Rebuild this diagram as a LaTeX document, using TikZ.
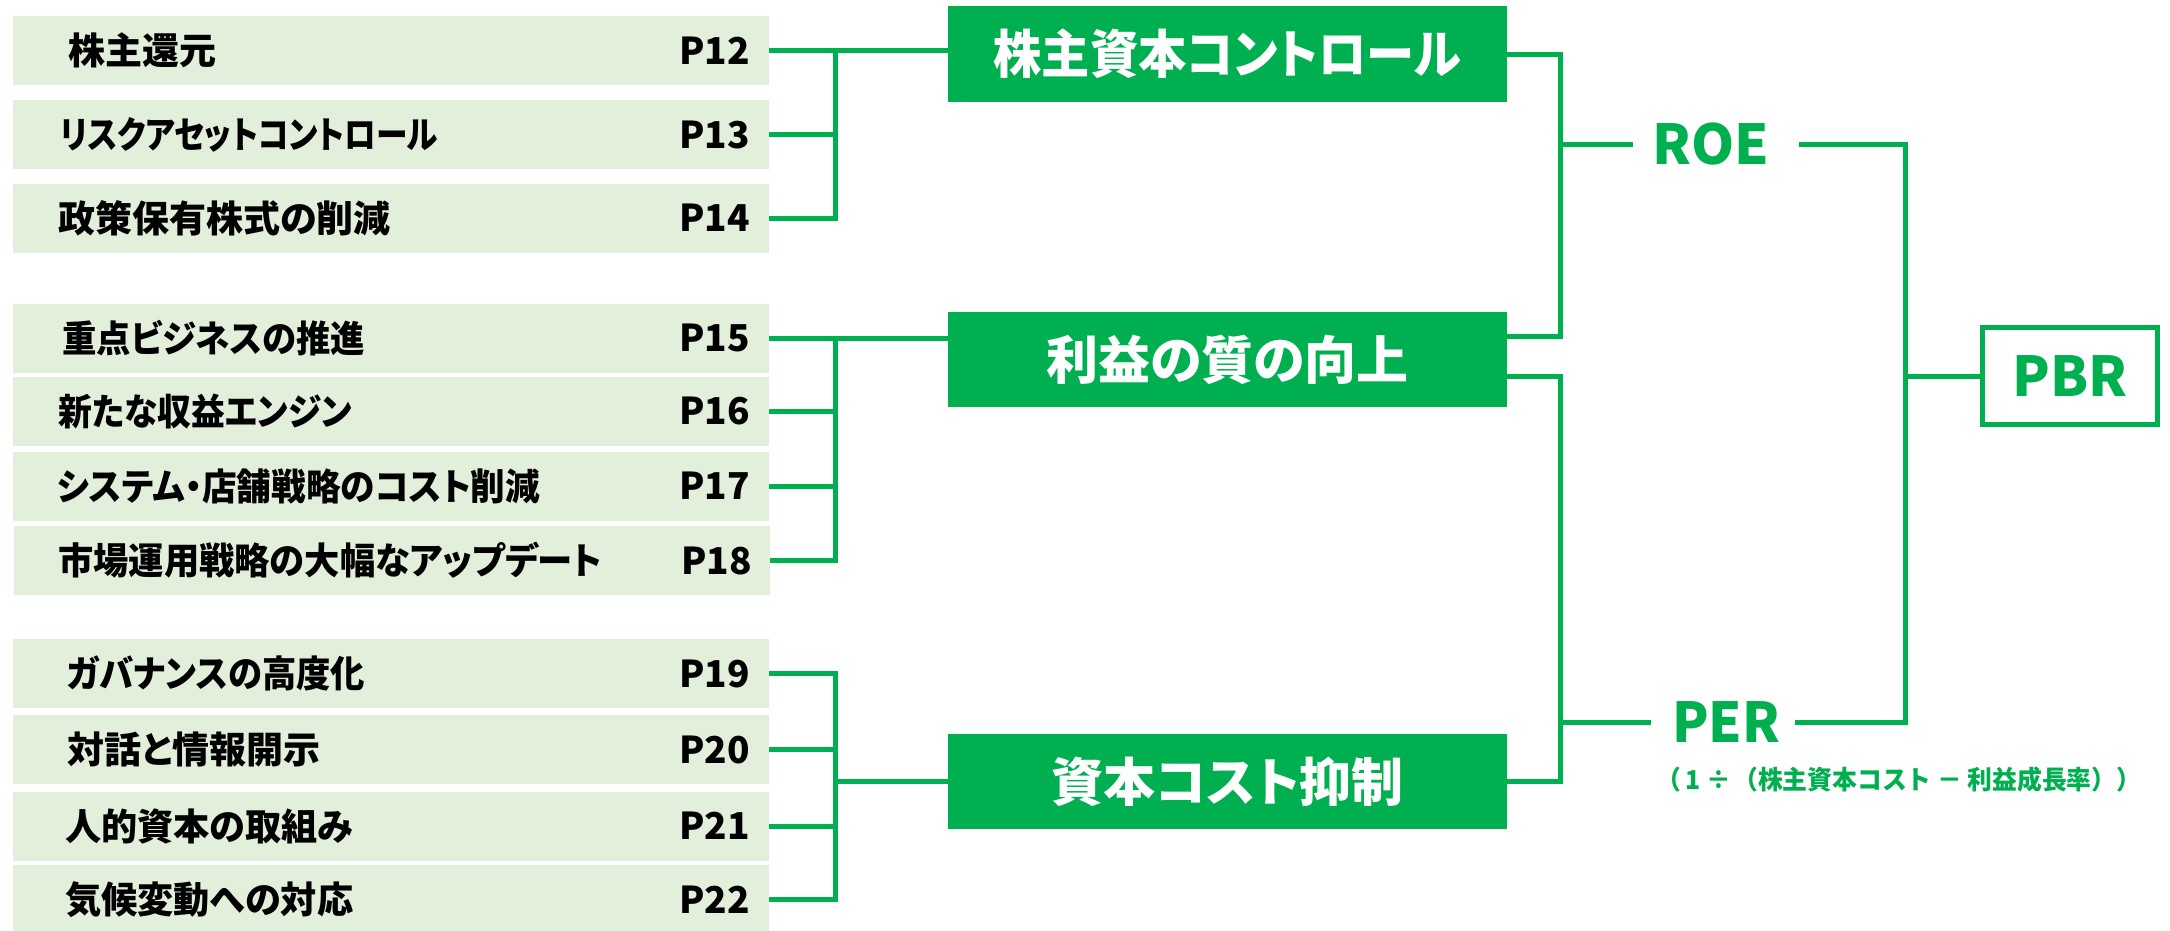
\documentclass[tikz,border=0pt]{standalone}
\usepackage{fontspec}
\setmainfont{Noto Sans CJK JP}[RawFeature={+palt}]
\newfontfamily\jpfw{Noto Sans CJK JP}
\newcommand\fitw[2]{\resizebox{#1}{\height}{#2}}
\definecolor{pgreen}{HTML}{00B050}
\definecolor{lgreen}{HTML}{E2EFDA}
\tikzset{
  lbox/.style={fill=lgreen, draw=none, minimum width=756pt, minimum height=69pt, inner sep=0pt},
  ltxt/.style={font=\fontsize{37}{40}\selectfont\bfseries, text=black, inner sep=0pt, anchor=west},
  ptxt/.style={font=\fontsize{37}{40}\selectfont\bfseries, text=black, inner sep=0pt, anchor=east},
  gbox/.style={fill=pgreen, draw=none, minimum width=559pt, minimum height=96pt, inner sep=0pt,
    text=white, font=\fontsize{52}{56}\selectfont\bfseries},
  metric/.style={text=pgreen, font=\fontsize{55}{60}\selectfont\bfseries, inner sep=0pt},
  pbrbox/.style={draw=pgreen, line width=5pt, fill=white, minimum width=175pt, minimum height=97pt,
    inner sep=0pt, text=pgreen, font=\fontsize{55}{60}\selectfont\bfseries},
  conn/.style={draw=pgreen, line width=5pt},
}
\begin{document}
\begin{tikzpicture}[x=1pt,y=-1pt]
\useasboundingbox (0,0) rectangle (2170,930);
\fill[white] (0,0) rectangle (2170,930);
% left boxes
\node[lbox] (l1)  at (391,50.5)  {};
\node[lbox] (l2)  at (391,134.5) {};
\node[lbox] (l3)  at (391,218)   {};
\node[lbox] (l4)  at (391,338)   {};
\node[lbox] (l5)  at (391,411)   {};
\node[lbox] (l6)  at (391,486)   {};
\node[lbox] (l7)  at (392,560.5) {};
\node[lbox] (l8)  at (391,673.5) {};
\node[lbox] (l9)  at (391,749.5) {};
\node[lbox] (l10) at (391,826)   {};
\node[lbox] (l11) at (391,899.5) {};
% left texts
\node[ltxt] (t1)  at (68,50.5)  {株主還元};
\node[ltxt] (t2)  at (60,134.5) {\fitw{378pt}{リスクアセットコントロール}};
\node[ltxt] (t3)  at (58,218)   {政策保有株式の削減};
\node[ltxt] (t4)  at (62,338)   {\fitw{303pt}{重点ビジネスの推進}};
\node[ltxt] (t5)  at (58,411)   {\fitw{294pt}{新たな収益エンジン}};
\node[ltxt] (t6)  at (57,486)   {\fitw{483pt}{システム・店舗戦略のコスト削減}};
\node[ltxt] (t7)  at (58,560.5) {\fitw{544pt}{市場運用戦略の大幅なアップデート}};
\node[ltxt] (t8)  at (67,673.5) {\fitw{298pt}{ガバナンスの高度化}};
\node[ltxt] (t9)  at (67,749.5) {対話と情報開示};
\node[ltxt] (t10) at (65,826)   {\fitw{288pt}{人的資本の取組み}};
\node[ltxt] (t11) at (65,899.5) {\fitw{288pt}{気候変動への対応}};
% page labels
\node[ptxt] (p1)  at (750,50.5)  {P12};
\node[ptxt] (p2)  at (750,134.5) {P13};
\node[ptxt] (p3)  at (750,218)   {P14};
\node[ptxt] (p4)  at (750,338)   {P15};
\node[ptxt] (p5)  at (750,411)   {P16};
\node[ptxt] (p6)  at (750,486)   {P17};
\node[ptxt] (p7)  at (752,560.5) {P18};
\node[ptxt] (p8)  at (750,673.5) {P19};
\node[ptxt] (p9)  at (750,749.5) {P20};
\node[ptxt] (p10) at (750,826)   {P21};
\node[ptxt] (p11) at (750,899.5) {P22};
% green boxes
\node[gbox] (gA) at (1227.5,54)    {\fitw{468pt}{株主資本コントロール}};
\node[gbox, minimum height=95pt] (gB) at (1227.5,359.5) {利益の質の向上};
\node[gbox, minimum height=95pt] (gC) at (1227.5,781.5) {資本コスト抑制};
% metrics
\node[metric] (roe) at (1711,144) {ROE};
\node[metric] (per) at (1726,722) {\fitw{108pt}{PER}};
\node[text=pgreen, font=\jpfw\fontsize{26}{30}\selectfont\bfseries, inner sep=0pt, anchor=west] (formula)
  at (1656,780) {\fitw{485pt}{（\hspace{5pt}1\hspace{6pt}÷\hspace{2pt}（株主資本コスト － 利益成長率））}};
\node[pbrbox] (pbr) at (2070,376) {PBR};
% helper coordinates
\coordinate (b1) at (835,0);
\coordinate (bR) at (1560,0);
\coordinate (bP) at (1905,0);
\coordinate (gBup) at ([yshift=23pt]gB.east);
\coordinate (gBdn) at ([yshift=-17pt]gB.east);
\coordinate (roeL) at ([xshift=-19pt]roe.west);
\coordinate (roeR) at ([xshift=29pt]roe.east);
\coordinate (perL) at ([xshift=-21pt]per.west);
\coordinate (perR) at ([xshift=15pt]per.east);
% group 1
\draw[conn] (l1.east) -- (l1.east -| b1) -- (l3.east -| b1) -- (l3.east);
\draw[conn] (l2.east) -- (l2.east -| b1);
\draw[conn] (l1.east -| b1) -- (gA.west |- l1.east);
% group 2
\draw[conn] (l4.east) -- (l4.east -| b1) -- (l7.east -| b1) -- (l7.east);
\draw[conn] (l5.east) -- (l5.east -| b1);
\draw[conn] (l6.east) -- (l6.east -| b1);
\draw[conn] (l4.east -| b1) -- (gB.west |- l4.east);
% group 3
\draw[conn] (l8.east) -- (l8.east -| b1) -- (l11.east -| b1) -- (l11.east);
\draw[conn] (l9.east) -- (l9.east -| b1);
\draw[conn] (l10.east) -- (l10.east -| b1);
\draw[conn] (gC.west) -- (gC.west -| b1);
% to ROE
\draw[conn] (gA.east) -- (gA.east -| bR) -- (gBup -| bR) -- (gBup);
\draw[conn] (bR |- roe) -- (roeL);
% to PER
\draw[conn] (gBdn) -- (gBdn -| bR) -- (gC.east -| bR) -- (gC.east);
\draw[conn] (bR |- per) -- (perL);
% to PBR
\draw[conn] (roeR) -- (roeR -| bP) -- (perR -| bP) -- (perR);
\draw[conn] (bP |- pbr.west) -- (pbr.west);
\end{tikzpicture}
\end{document}
